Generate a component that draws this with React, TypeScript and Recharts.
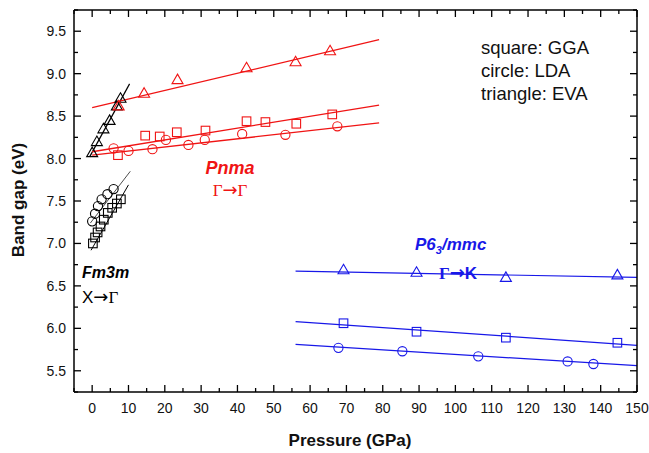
import { ComposedChart, Customized, Line, Scatter, XAxis, YAxis } from "recharts";

const FONT = '"Liberation Sans", Arial, sans-serif';
const RED = "#f01414";
const BLUE = "#1818e8";
const BLACK = "#000";

// axis ticks (majors get a label)
const xTicks = [-5, 0, 5, 10, 15, 20, 25, 30, 35, 40, 45, 50, 55, 60, 65, 70, 75, 80, 85, 90, 95, 100, 105, 110, 115, 120, 125, 130, 135, 140, 145, 150];
const yTicks = [5.25, 5.5, 5.75, 6.0, 6.25, 6.5, 6.75, 7.0, 7.25, 7.5, 7.75, 8.0, 8.25, 8.5, 8.75, 9.0, 9.25, 9.5, 9.75];

// Fm3m (black)
const fmTriangles = [
  { x: 0, y: 8.07 }, { x: 1.3, y: 8.2 }, { x: 3.1, y: 8.35 }, { x: 4.8, y: 8.45 }, { x: 6.8, y: 8.62 }, { x: 7.8, y: 8.71 },
];
const fmTriangleFit = [{ x: -0.7, y: 8.02 }, { x: 10.3, y: 8.88 }];
const fmCircles = [
  { x: 0, y: 7.26 }, { x: 0.8, y: 7.35 }, { x: 1.6, y: 7.44 }, { x: 2.6, y: 7.52 }, { x: 4.2, y: 7.58 }, { x: 5.9, y: 7.64 },
];
const fmCircleFit = [{ x: -0.5, y: 7.24 }, { x: 10.5, y: 7.85 }];
const fmSquares = [
  { x: 0.2, y: 7.0 }, { x: 0.8, y: 7.07 }, { x: 1.5, y: 7.13 }, { x: 2.3, y: 7.2 }, { x: 3.2, y: 7.28 },
  { x: 4.3, y: 7.36 }, { x: 5.5, y: 7.42 }, { x: 6.8, y: 7.47 }, { x: 7.9, y: 7.52 },
];
const fmSquareFit = [{ x: -0.3, y: 6.92 }, { x: 10, y: 7.69 }];

// Pnma (red)
const pnTriangles = [
  { x: 7.3, y: 8.62 }, { x: 14.3, y: 8.77 }, { x: 23.5, y: 8.93 }, { x: 42.5, y: 9.07 }, { x: 56, y: 9.14 }, { x: 65.5, y: 9.27 },
];
const pnTriangleFit = [{ x: 0, y: 8.6 }, { x: 79, y: 9.4 }];
const pnSquares = [
  { x: 7.1, y: 8.04 }, { x: 14.6, y: 8.27 }, { x: 18.6, y: 8.26 }, { x: 23.3, y: 8.31 }, { x: 31.2, y: 8.33 },
  { x: 42.5, y: 8.44 }, { x: 47.7, y: 8.43 }, { x: 56.2, y: 8.41 }, { x: 66.1, y: 8.52 },
];
const pnSquareFit = [{ x: 0, y: 8.08 }, { x: 79, y: 8.63 }];
const pnCircles = [
  { x: 5.9, y: 8.12 }, { x: 10, y: 8.09 }, { x: 16.6, y: 8.11 }, { x: 20.3, y: 8.22 }, { x: 26.5, y: 8.16 },
  { x: 31, y: 8.22 }, { x: 41.3, y: 8.29 }, { x: 53.2, y: 8.28 }, { x: 67.5, y: 8.38 },
];
const pnCircleFit = [{ x: 0, y: 8.04 }, { x: 79, y: 8.42 }];

// P6_3/mmc (blue)
const p6Triangles = [{ x: 69.2, y: 6.69 }, { x: 89.3, y: 6.66 }, { x: 113.9, y: 6.6 }, { x: 144.6, y: 6.63 }];
const p6TriangleFit = [{ x: 56, y: 6.675 }, { x: 150, y: 6.6 }];
const p6Squares = [{ x: 69.2, y: 6.06 }, { x: 89.3, y: 5.96 }, { x: 113.9, y: 5.89 }, { x: 144.6, y: 5.83 }];
const p6SquareFit = [{ x: 56, y: 6.08 }, { x: 150, y: 5.8 }];
const p6Circles = [{ x: 67.8, y: 5.77 }, { x: 85.4, y: 5.73 }, { x: 106.3, y: 5.67 }, { x: 130.9, y: 5.61 }, { x: 138, y: 5.58 }];
const p6CircleFit = [{ x: 56, y: 5.81 }, { x: 150, y: 5.56 }];

const triangle = (color: string) => (p: any) => (
  <path
    d={`M${p.cx},${p.cy - 5.5}L${p.cx + 5.5},${p.cy + 4}L${p.cx - 5.5},${p.cy + 4}Z`}
    fill="none"
    stroke={color}
    strokeWidth={1.1}
  />
);
const square = (color: string) => (p: any) => (
  <rect x={p.cx - 4.3} y={p.cy - 4.3} width={8.6} height={8.6} fill="none" stroke={color} strokeWidth={1.1} />
);
const circle = (color: string) => (p: any) => (
  <circle cx={p.cx} cy={p.cy} r={4.6} fill="none" stroke={color} strokeWidth={1.1} />
);

function BottomTick({ x, y, payload }: any) {
  const v = payload.value;
  const major = v % 10 === 0;
  return (
    <g>
      <line x1={x} y1={y} x2={x} y2={y - (major ? 7 : 4)} stroke={BLACK} strokeWidth={1.3} />
      {major && (
        <text x={x} y={y + 21} textAnchor="middle" fontSize={14} fontFamily={FONT} fill="#111">
          {v}
        </text>
      )}
    </g>
  );
}

function TopTick({ x, y, payload }: any) {
  const major = payload.value % 10 === 0;
  return <line x1={x} y1={y} x2={x} y2={y + (major ? 7 : 4)} stroke={BLACK} strokeWidth={1.3} />;
}

function LeftTick({ x, y, payload }: any) {
  const v = payload.value;
  const major = Math.abs(v * 2 - Math.round(v * 2)) < 1e-6;
  return (
    <g>
      <line x1={x} y1={y} x2={x + (major ? 7 : 4)} y2={y} stroke={BLACK} strokeWidth={1.3} />
      {major && (
        <text x={x - 8} y={y + 5} textAnchor="end" fontSize={14} fontFamily={FONT} fill="#111">
          {v.toFixed(1)}
        </text>
      )}
    </g>
  );
}

function RightTick({ x, y, payload }: any) {
  const v = payload.value;
  const major = Math.abs(v * 2 - Math.round(v * 2)) < 1e-6;
  return <line x1={x} y1={y} x2={x - (major ? 7 : 4)} y2={y} stroke={BLACK} strokeWidth={1.3} />;
}

const G = { fontFamily: '"Liberation Serif", serif' };
const ARROW = { fontFamily: '"DejaVu Sans", sans-serif', fontSize: 18 };

function Annotations() {
  return (
    <g fontFamily={FONT}>
      <text x={350} y={446} textAnchor="middle" fontSize={17} fontWeight="bold" fill="#111">
        Pressure (GPa)
      </text>
      <text x={24} y={200} textAnchor="middle" fontSize={17} fontWeight="bold" fill="#111" transform="rotate(-90 24 200)">
        Band gap (eV)
      </text>
      <g fontSize={18.5} fill="#111">
        <text x={481} y={54}>square: GGA</text>
        <text x={481} y={77}>circle: LDA</text>
        <text x={481} y={100}>triangle: EVA</text>
      </g>
      <text x={230} y={174} textAnchor="middle" fontSize={18} fontWeight="bold" fontStyle="italic" fill={RED}>
        Pnma
      </text>
      <text x={230} y={196} textAnchor="middle" fontSize={17} fill={RED}>
        <tspan {...G}>Γ</tspan>
        <tspan {...ARROW}>→</tspan>
        <tspan {...G}>Γ</tspan>
      </text>
      <text x={82} y={278} fontSize={16} fontWeight="bold" fontStyle="italic" fill={BLACK}>
        Fm3m
      </text>
      <text x={82} y={303} fontSize={17} fill={BLACK}>
        X<tspan {...ARROW}>→</tspan>
        <tspan {...G}>Γ</tspan>
      </text>
      <text x={415} y={250} fontSize={17} fontWeight="bold" fontStyle="italic" fill={BLUE}>
        P6<tspan fontSize={11} dy={4}>3</tspan>
        <tspan dy={-4}>/mmc</tspan>
      </text>
      <text x={458} y={279} textAnchor="middle" fontSize={17} fontWeight="bold" fill={BLUE}>
        <tspan {...G}>Γ</tspan>
        <tspan {...ARROW}>→</tspan>K
      </text>
    </g>
  );
}

const fitLine = (data: any[], color: string, width: number, key: string) => (
  <Line
    key={key}
    data={data}
    dataKey="y"
    stroke={color}
    strokeWidth={width}
    dot={false}
    activeDot={false}
    isAnimationActive={false}
    legendType="none"
  />
);

export default function App() {
  return (
    <div style={{ width: 649, height: 453 }}>
      <style>{`body{margin:0}`}</style>
      <ComposedChart width={649} height={453} margin={{ top: 0, right: 0, bottom: 0, left: 0 }}>
        <XAxis
          dataKey="x"
          type="number"
          domain={[-5, 150]}
          ticks={xTicks}
          interval={0}
          allowDataOverflow
          height={61}
          tickSize={0}
          tickMargin={0}
          tickLine={false}
          axisLine={{ stroke: BLACK, strokeWidth: 1.5 }}
          tick={<BottomTick />}
        />
        <XAxis
          xAxisId="top"
          orientation="top"
          dataKey="x"
          type="number"
          domain={[-5, 150]}
          ticks={xTicks}
          interval={0}
          allowDataOverflow
          height={10}
          tickSize={0}
          tickMargin={0}
          tickLine={false}
          axisLine={{ stroke: BLACK, strokeWidth: 1.5 }}
          tick={<TopTick />}
        />
        <YAxis
          dataKey="y"
          type="number"
          domain={[5.25, 9.75]}
          ticks={yTicks}
          interval={0}
          allowDataOverflow
          width={74}
          tickSize={0}
          tickMargin={0}
          tickLine={false}
          axisLine={{ stroke: BLACK, strokeWidth: 1.5 }}
          tick={<LeftTick />}
        />
        <YAxis
          yAxisId="right"
          orientation="right"
          dataKey="y"
          type="number"
          domain={[5.25, 9.75]}
          ticks={yTicks}
          interval={0}
          allowDataOverflow
          width={12}
          tickSize={0}
          tickMargin={0}
          tickLine={false}
          axisLine={{ stroke: BLACK, strokeWidth: 1.5 }}
          tick={<RightTick />}
        />

        {fitLine(fmTriangleFit, BLACK, 1.2, "fmtf")}
        {fitLine(fmCircleFit, BLACK, 0.7, "fmcf")}
        {fitLine(fmSquareFit, BLACK, 1.0, "fmsf")}
        {fitLine(pnTriangleFit, RED, 1.3, "pntf")}
        {fitLine(pnSquareFit, RED, 1.3, "pnsf")}
        {fitLine(pnCircleFit, RED, 1.3, "pncf")}
        {fitLine(p6TriangleFit, BLUE, 1.2, "p6tf")}
        {fitLine(p6SquareFit, BLUE, 1.2, "p6sf")}
        {fitLine(p6CircleFit, BLUE, 1.2, "p6cf")}

        <Scatter data={fmTriangles} shape={triangle(BLACK)} isAnimationActive={false} />
        <Scatter data={fmCircles} shape={circle(BLACK)} isAnimationActive={false} />
        <Scatter data={fmSquares} shape={square(BLACK)} isAnimationActive={false} />
        <Scatter data={pnTriangles} shape={triangle(RED)} isAnimationActive={false} />
        <Scatter data={pnSquares} shape={square(RED)} isAnimationActive={false} />
        <Scatter data={pnCircles} shape={circle(RED)} isAnimationActive={false} />
        <Scatter data={p6Triangles} shape={triangle(BLUE)} isAnimationActive={false} />
        <Scatter data={p6Squares} shape={square(BLUE)} isAnimationActive={false} />
        <Scatter data={p6Circles} shape={circle(BLUE)} isAnimationActive={false} />

        <Customized component={Annotations} />
      </ComposedChart>
    </div>
  );
}
